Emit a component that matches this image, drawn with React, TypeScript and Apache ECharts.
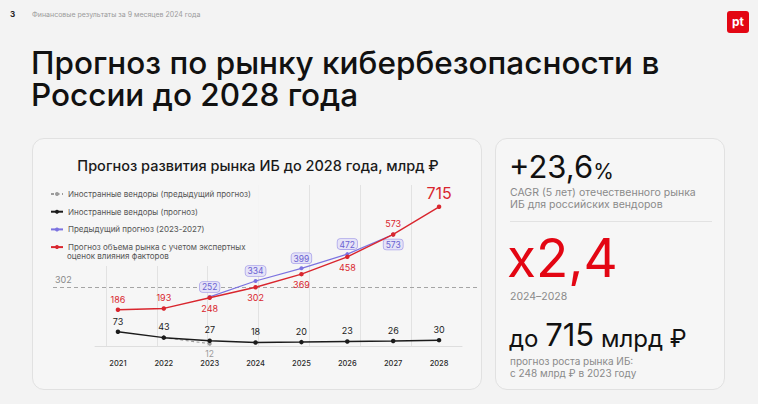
import React, { useEffect, useRef } from 'react';
import * as echarts from 'echarts';

// ---------- data ----------
const years = ['2021', '2022', '2023', '2024', '2025', '2026', '2027', '2028'];
const marketForecast = [186, 193, 248, 302, 369, 458, 573, 715];
const previousForecast = [null, null, 252, 334, 399, 472, 573, null];
const foreignForecast = [73, 43, 27, 18, 20, 23, 26, 30];
const foreignPrevious = [null, 43, 12, null, null, null, null, null];
const thresholdValue = 302;
const seriesNames = [
  'Иностранные вендоры (предыдущий прогноз)',
  'Иностранные вендоры (прогноз)',
  'Предыдущий прогноз (2023-2027)',
  'Прогноз объема рынка с учетом экспертных\nоценок влияния факторов',
];
const titleLines = ['Прогноз по рынку кибербезопасности в', 'России до 2028 года'];
const chartTitle = 'Прогноз развития рынка ИБ до 2028 года, млрд ₽';
const headerText = 'Финансовые результаты за 9 месяцев 2024 года';
const pageNumber = '3';
const cagrValue = '+23,6';
const cagrText = ['CAGR (5 лет) отечественного рынка', 'ИБ для российских вендоров'];
const growthValue = 'x2,4';
const growthPeriod = '2024–2028';

// ---------- style ----------
const FONT = 'Inter, Roboto, "Noto Sans", sans-serif';
const PAGE = '#f3f3f3';
const CARD = '#f6f6f6';
const RED = '#d9262e';
const BRIGHT_RED = '#e30613';
const PURPLE = '#7c73e0';
const BLACK = '#1b1b1b';
const GRAY = '#9c9c9c';
const Y_MAX = 827;
const GRID_TOP = 185;
const GRID_BOTTOM = 58;
const redBelow = [2, 3, 4, 5];
const purpleBelow = [6];

const lastDefined = (arr: (number | null)[]) => {
  let k = -1;
  arr.forEach((v, i) => { if (v != null) k = i; });
  return k;
};

const txt = (x: number, y: number, text: string, extra: any = {}, z = 10) => ({
  type: 'text',
  x,
  y,
  z,
  silent: true,
  style: {
    text,
    fontFamily: FONT,
    fill: '#111',
    fontSize: 10,
    align: 'left',
    textAlign: 'left',
    verticalAlign: 'middle',
    textVerticalAlign: 'middle',
    ...extra,
  },
});

function buildOption(): any {
  const labelBase = { fontFamily: FONT, fontSize: 8.5 };
  const grayLabelIdx = lastDefined(foreignPrevious);
  const lastIdx = marketForecast.length - 1;

  return {
    animation: false,
    backgroundColor: 'transparent',
    grid: [
      { left: 95, right: 758 - 462, top: GRID_TOP, bottom: GRID_BOTTOM },
      { left: 106, right: 758 - 411, top: GRID_TOP, bottom: GRID_BOTTOM },
      { left: 53, right: 758 - 478, top: GRID_TOP, bottom: GRID_BOTTOM },
    ],
    xAxis: [
      {
        gridIndex: 0,
        type: 'category',
        data: years,
        boundaryGap: true,
        axisLine: { lineStyle: { color: '#dedede', width: 1 } },
        axisTick: { show: false },
        axisLabel: { color: '#2a2a2a', fontSize: 7.5, fontWeight: 500, fontFamily: FONT, margin: 13 },
        splitLine: { show: false },
      },
      {
        gridIndex: 1,
        type: 'value',
        min: 0,
        max: 6,
        interval: 1,
        axisLine: { show: false },
        axisTick: { show: false },
        axisLabel: { show: false },
        splitLine: { show: true, lineStyle: { color: '#e2e2e2', width: 1 } },
      },
      { gridIndex: 2, type: 'value', min: 0, max: 1, show: false },
    ],
    yAxis: [
      { gridIndex: 0, type: 'value', min: 0, max: Y_MAX, show: false },
      { gridIndex: 1, type: 'value', min: 0, max: 1, show: false },
      { gridIndex: 2, type: 'value', min: 0, max: Y_MAX, show: false },
    ],
    legend: {
      orient: 'vertical',
      left: 45,
      top: 184,
      padding: [5, 8, 14, 5],
      itemGap: 7.7,
      itemWidth: 12,
      itemHeight: 5,
      backgroundColor: CARD,
      selectedMode: false,
      data: seriesNames,
      formatter: (name: string) => name.split('\n')[0],
      textStyle: { color: '#555', fontSize: 8, fontFamily: FONT, lineHeight: 10 },
    },
    series: [
      {
        type: 'line',
        xAxisIndex: 1,
        yAxisIndex: 1,
        data: [],
        silent: true,
      },
      {
        type: 'line',
        xAxisIndex: 2,
        yAxisIndex: 2,
        data: [[0, thresholdValue], [1, thresholdValue]],
        showSymbol: false,
        lineStyle: { opacity: 0 },
        silent: true,
        z: 1,
        markLine: {
          silent: true,
          symbol: ['none', 'none'],
          data: [{ yAxis: thresholdValue }],
          lineStyle: { type: [4, 3], color: '#a5a5a5', width: 1 },
          label: {
            position: 'insideStartTop',
            formatter: String(thresholdValue),
            color: '#8a8a8a',
            fontSize: 9,
            fontFamily: FONT,
            distance: [2, 3],
          },
        },
      },
      {
        name: seriesNames[0],
        type: 'line',
        xAxisIndex: 0,
        yAxisIndex: 0,
        data: foreignPrevious,
        symbol: 'circle',
        symbolSize: 4,
        lineStyle: { type: [3, 2.5], width: 1.1, color: GRAY },
        itemStyle: { color: GRAY },
        z: 3,
        label: {
          show: true,
          position: 'bottom',
          distance: 4,
          color: '#9a9a9a',
          ...labelBase,
          formatter: (p: any) => (p.dataIndex === grayLabelIdx ? String(p.value) : ''),
        },
      },
      {
        name: seriesNames[1],
        type: 'line',
        xAxisIndex: 0,
        yAxisIndex: 0,
        data: foreignForecast,
        symbol: 'circle',
        symbolSize: 4.5,
        lineStyle: { width: 1.5, color: BLACK },
        itemStyle: { color: BLACK },
        z: 4,
        label: { show: true, position: 'top', distance: 4, color: '#222', ...labelBase, fontSize: 9 },
      },
      {
        name: seriesNames[2],
        type: 'line',
        xAxisIndex: 0,
        yAxisIndex: 0,
        data: previousForecast.map((v, i) =>
          v == null ? null : { value: v, label: { position: purpleBelow.includes(i) ? 'bottom' : 'top' } }
        ),
        symbol: 'circle',
        symbolSize: 4,
        lineStyle: { width: 1.2, color: PURPLE },
        itemStyle: { color: PURPLE },
        z: 5,
        label: {
          show: true,
          distance: 3,
          color: '#6a62d2',
          backgroundColor: '#e5e3f7',
          borderColor: '#aca5ea',
          borderWidth: 0.8,
          borderRadius: 3,
          padding: [1, 2, 0, 2],
          ...labelBase,
        },
      },
      {
        name: seriesNames[3],
        type: 'line',
        xAxisIndex: 0,
        yAxisIndex: 0,
        data: marketForecast.map((v, i) => ({
          value: v,
          label:
            i === lastIdx
              ? { position: 'top', fontSize: 16, distance: 4 }
              : { position: redBelow.includes(i) ? 'bottom' : 'top' },
        })),
        symbol: 'circle',
        symbolSize: 4.5,
        lineStyle: { width: 1.4, color: RED },
        itemStyle: { color: RED },
        z: 6,
        label: { show: true, distance: 4, color: RED, ...labelBase, fontSize: 9 },
      },
    ],
    graphic: [
      txt(10, 14, pageNumber, { fontSize: 8, fontWeight: 700, fill: '#222' }),
      txt(32, 14, headerText, { fontSize: 7, fill: '#9b9b9b' }),
      {
        type: 'text',
        x: 31,
        y: 47,
        z: 10,
        silent: true,
        style: {
          text: titleLines.join('\n'),
          fontFamily: FONT,
          fontSize: 31.5,
          lineHeight: 31.5,
          fontWeight: 500,
          fill: '#111',
          align: 'left',
          textAlign: 'left',
          verticalAlign: 'top',
          textVerticalAlign: 'top',
        },
      },
      {
        type: 'rect',
        z: 10,
        silent: true,
        shape: { x: 727, y: 11, width: 22, height: 22, r: 3 },
        style: { fill: BRIGHT_RED },
      },
      txt(738, 21.5, 'pt', { fontSize: 12, fontWeight: 700, fill: '#fff', align: 'center', textAlign: 'center' }),
      txt(258, 165.5, chartTitle, { fontSize: 14.5, fontWeight: 500, fill: '#1a1a1a', align: 'center', textAlign: 'center' }),
      txt(67, 256, seriesNames[3].split('\n')[1], { fontSize: 8, fill: '#555' }, 20),
      // right card
      {
        type: 'text',
        x: 509,
        y: 182,
        z: 10,
        silent: true,
        style: {
          text: `{a|${cagrValue}}{b|%}`,
          fontFamily: FONT,
          fill: '#111',
          verticalAlign: 'bottom',
          textVerticalAlign: 'bottom',
          rich: {
            a: { fontSize: 31, fontFamily: FONT, fill: '#111', verticalAlign: 'bottom' },
            b: { fontSize: 21, fontFamily: FONT, fill: '#111', verticalAlign: 'bottom' },
          },
        },
      },
      txt(510, 192.7, cagrText[0], { fontSize: 10.5, fill: '#8a8a8a' }),
      txt(510, 204.3, cagrText[1], { fontSize: 10.5, fill: '#8a8a8a' }),
      {
        type: 'line',
        z: 10,
        silent: true,
        shape: { x1: 510, y1: 221.5, x2: 712, y2: 221.5 },
        style: { stroke: '#e2e2e2', lineWidth: 1 },
      },
      txt(507, 258, growthValue, { fontSize: 53, lineHeight: 44, fill: BRIGHT_RED }),
      txt(510, 296, growthPeriod, { fontSize: 10.5, fill: '#8a8a8a' }),
      {
        type: 'text',
        x: 509,
        y: 350,
        z: 10,
        silent: true,
        style: {
          text: `{a|до }{b|${marketForecast[lastIdx]}}{a| млрд ₽}`,
          fontFamily: FONT,
          fill: '#111',
          verticalAlign: 'bottom',
          textVerticalAlign: 'bottom',
          rich: {
            a: { fontSize: 24, fontFamily: FONT, fill: '#111', verticalAlign: 'bottom' },
            b: { fontSize: 31, fontFamily: FONT, fill: '#111', verticalAlign: 'bottom' },
          },
        },
      },
      txt(510, 360.7, 'прогноз роста рынка ИБ:', { fontSize: 10, fill: '#8a8a8a' }),
      txt(510, 373, `с ${marketForecast[2]} млрд ₽ в ${years[2]} году`, { fontSize: 10, fill: '#8a8a8a' }),
    ],
  };
}

export default function App() {
  const ref = useRef<HTMLDivElement>(null);
  useEffect(() => {
    if (!ref.current) return;
    const chart = echarts.init(ref.current, null, { renderer: 'svg' });
    chart.setOption(buildOption());
    return () => chart.dispose();
  }, []);
  const card: React.CSSProperties = {
    position: 'absolute',
    top: 138,
    height: 252,
    boxSizing: 'border-box',
    border: '1px solid #e1e1e1',
    borderRadius: 12,
    background: CARD,
  };
  return (
    <div style={{ position: 'fixed', left: 0, top: 0, width: 758, height: 404, background: PAGE, overflow: 'hidden' }}>
      <div style={{ ...card, left: 32, width: 450 }} />
      <div style={{ ...card, left: 495, width: 230 }} />
      <div ref={ref} style={{ position: 'absolute', left: 0, top: 0, width: 758, height: 404 }} />
    </div>
  );
}
